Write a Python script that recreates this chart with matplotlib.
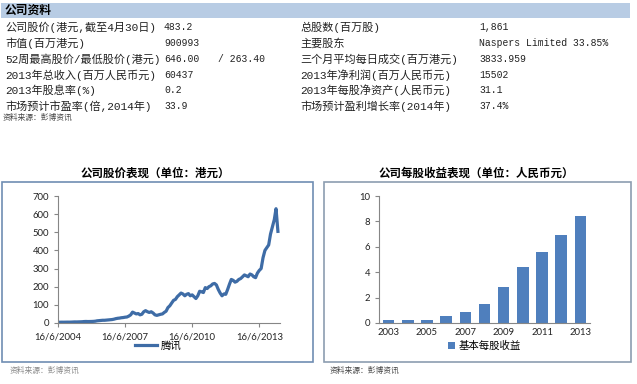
import matplotlib.pyplot as plt
from matplotlib.patches import Rectangle
import pandas as pd

# table data
left_labels = ['公司股价(港元,截至4月30日)', '市值(百万港元)', '52周最高股价/最低股价(港元)',
               '2013年总收入(百万人民币元)', '2013年股息率(%)', '市场预计市盈率(倍,2014年)']
left_values = ['483.2', '900993', '646.00', '60437', '0.2', '33.9']
right_labels = ['总股数(百万股)', '主要股东', '三个月平均每日成交(百万港元)',
                '2013年净利润(百万人民币元)', '2013年每股净资产(人民币元)', '市场预计盈利增长率(2014年)']
right_values = ['1,861', 'Naspers Limited 33.85%', '3833.959', '15502', '31.1', '37.4%']

# monthly close, from 16/6/2004 to 16/4/2014
price = [4, 4.2, 4.5, 4.4, 4.6, 4.8, 4.7,
         5, 5.5, 6, 5.8, 6.2, 6.5, 7, 8, 8.5, 8, 8.2, 8.5,
         9, 10, 12, 13, 14, 15, 15, 16, 17, 18, 19, 21,
         24, 26, 27, 29, 30, 32, 33, 38, 45, 60, 55, 50,
         52, 45, 48, 62, 68, 62, 58, 62, 55, 45, 42, 45,
         48, 50, 58, 65, 85, 95, 110, 125, 130, 145, 155, 165,
         160, 150, 158, 162, 150, 155, 145, 135, 150, 175, 172, 168,
         195, 190, 200, 205, 215, 218, 210, 185, 165, 150, 160, 158,
         185, 215, 240, 235, 225, 230, 240, 245, 255, 265, 260, 255,
         270, 265, 255, 250, 275, 290, 300, 360, 400, 415, 430, 490,
         530, 570, 630, 505]
dates = pd.date_range('2004-06-16', periods=len(price), freq=pd.DateOffset(months=1))

years = ['2003', '2004', '2005', '2006', '2007', '2008', '2009', '2010', '2011', '2012', '2013']
eps = [0.22, 0.25, 0.25, 0.55, 0.85, 1.5, 2.85, 4.4, 5.6, 6.9, 8.45]

W, H = 637, 384
fig = plt.figure(figsize=(W / 100, H / 100), dpi=100)

def fx(x):
    return x / W

def fy(y):
    return 1 - y / H

cjk = ['Liberation Mono', 'Noto Sans CJK SC']
sans = ['Lato', 'Noto Sans CJK SC']

# header bar
fig.patches.append(Rectangle((fx(1), fy(18)), fx(629), 15 / H, transform=fig.transFigure,
                             facecolor='#b8cce4', edgecolor='none'))
fig.text(fx(5), fy(10.5), '公司资料', family='Noto Sans CJK SC', weight='bold',
         fontsize=8.5, va='center')

row_y = [27, 43, 59, 75, 90, 106]
for i in range(6):
    fig.text(fx(5), fy(row_y[i]), left_labels[i], family=cjk, fontsize=8, va='center', color='#222222')
    fig.text(fx(164), fy(row_y[i]), left_values[i], family=cjk, fontsize=7, va='center', color='#222222')
    fig.text(fx(300), fy(row_y[i]), right_labels[i], family=cjk, fontsize=8, va='center', color='#222222')
    fig.text(fx(479), fy(row_y[i]), right_values[i], family=cjk, fontsize=7, va='center', color='#222222')
fig.text(fx(218), fy(row_y[2]), '/ 263.40', family=cjk, fontsize=7, va='center', color='#222222')
fig.text(fx(3), fy(118), '资料来源：彭博资讯', family='Noto Sans CJK SC', fontsize=5.6,
         va='center', color='#444444')

# chart boxes
fig.patches.append(Rectangle((fx(2), fy(362)), fx(311), 180 / H, transform=fig.transFigure,
                             facecolor='none', edgecolor='#6f8db3', linewidth=1.2))
fig.patches.append(Rectangle((fx(324), fy(362)), fx(307), 180 / H, transform=fig.transFigure,
                             facecolor='none', edgecolor='#8c9db0', linewidth=1.2))

fig.text(fx(155), fy(173), '公司股价表现（单位：港元）', family='Noto Sans CJK SC', weight='bold',
         fontsize=8.3, ha='center', va='center')
fig.text(fx(476), fy(173), '公司每股收益表现（单位：人民币元）', family='Noto Sans CJK SC', weight='bold',
         fontsize=8.3, ha='center', va='center')

def style(ax):
    for s in ['top', 'right']:
        ax.spines[s].set_visible(False)
    for s in ['left', 'bottom']:
        ax.spines[s].set_color('#868686')
        ax.spines[s].set_linewidth(0.8)
    ax.tick_params(colors='#868686', labelcolor='#222222', labelsize=6.8, length=3, width=0.8)
    for lab in ax.get_xticklabels() + ax.get_yticklabels():
        lab.set_family(sans)

# line chart
ax1 = fig.add_axes([fx(58), fy(323), fx(222), 127 / H])
ax1.plot(dates, price, color='#3e6ca6', linewidth=2.3, label='腾讯')
ax1.set_ylim(0, 700)
ax1.set_yticks(range(0, 701, 100))
ax1.set_xlim(pd.Timestamp('2004-06-16'), pd.Timestamp('2014-05-20'))
xt = [pd.Timestamp(d) for d in ['2004-06-16', '2007-06-16', '2010-06-16', '2013-06-16']]
ax1.set_xticks(xt)
ax1.set_xticklabels(['16/6/2004', '16/6/2007', '16/6/2010', '16/6/2013'])
style(ax1)
ax1.legend(loc='upper center', bbox_to_anchor=(0.45, -0.1), frameon=False,
           prop={'family': 'Noto Sans CJK SC', 'size': 7.5}, handlelength=2.2,
           handletextpad=0.3, borderpad=0)
fig.text(fx(10), fy(371), '资料来源：彭博资讯', family='Noto Sans CJK SC', fontsize=5.6,
         va='center', color='#888888')

# bar chart
ax2 = fig.add_axes([fx(379), fy(323), fx(211), 127 / H])
ax2.bar(range(len(years)), eps, width=0.6, color='#4f7fbd', label='基本每股收益')
ax2.set_ylim(0, 10)
ax2.set_yticks(range(0, 11, 2))
ax2.set_xlim(-0.5, len(years) - 0.5)
ax2.set_xticks(range(0, len(years), 2))
ax2.set_xticklabels(years[::2])
style(ax2)
ax2.tick_params(axis='x', length=0)
ax2.legend(loc='upper center', bbox_to_anchor=(0.5, -0.1), frameon=False,
           prop={'family': 'Noto Sans CJK SC', 'size': 7.5}, handlelength=0.7,
           handleheight=0.7, handletextpad=0.3, borderpad=0)
fig.text(fx(330), fy(371), '资料来源：彭博资讯', family='Noto Sans CJK SC', fontsize=5.6,
         va='center', color='#444444')

fig.savefig('out.png', dpi=100)
